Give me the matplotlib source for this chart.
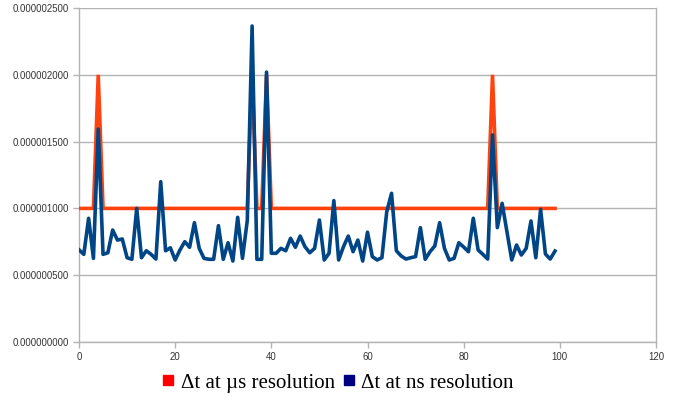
import matplotlib
matplotlib.use("Agg")
import matplotlib.pyplot as plt
from matplotlib.lines import Line2D

x_values = list(range(100))

us_values = [1e-6] * 100
for i in (4, 36, 39, 86):
    us_values[i] = 2e-6

ns_values_e6 = [
    0.690, 0.656, 0.926, 0.626, 1.594, 0.656, 0.668, 0.838, 0.763, 0.771,
    0.631, 0.619, 1.000, 0.631, 0.683, 0.656, 0.621, 1.200, 0.683, 0.705,
    0.614, 0.689, 0.751, 0.709, 0.893, 0.701, 0.626, 0.619, 0.619, 0.871,
    0.619, 0.743, 0.606, 0.933, 0.626, 0.910, 2.365, 0.619, 0.619, 2.020,
    0.664, 0.664, 0.701, 0.683, 0.776, 0.709, 0.793, 0.713, 0.668, 0.701,
    0.913, 0.614, 0.664, 1.058, 0.614, 0.713, 0.793, 0.676, 0.763, 0.606,
    0.822, 0.639, 0.614, 0.631, 0.975, 1.113, 0.683, 0.644, 0.621, 0.631,
    0.639, 0.856, 0.619, 0.676, 0.719, 0.893, 0.701, 0.614, 0.626, 0.743,
    0.711, 0.676, 0.926, 0.689, 0.656, 0.621, 1.550, 0.856, 1.038, 0.826,
    0.614, 0.726, 0.651, 0.701, 0.906, 0.631, 0.993, 0.659, 0.621, 0.681,
]
ns_values = [v * 1e-6 for v in ns_values_e6]

y_ticks = [0, 0.5e-6, 1e-6, 1.5e-6, 2e-6, 2.5e-6]
x_ticks = [0, 20, 40, 60, 80, 100, 120]
legend_labels = ["Δt at µs resolution", "Δt at ns resolution"]

fig = plt.figure(figsize=(6.74, 3.96), dpi=100)
ax = fig.add_axes([79/674, 1 - 342/396, (656 - 79)/674, (342 - 8)/396])

grid_c = "#b3b3b3"
ax.plot(x_values, us_values, color="#ff420e", lw=2.6, solid_joinstyle="miter", zorder=3)
ax.plot(x_values, ns_values, color="#004586", lw=2.6, zorder=4)

ax.set_xlim(0, 120)
ax.set_ylim(0, 2.5e-6)
ax.set_xticks(x_ticks)
ax.set_yticks(y_ticks)
ax.set_xticklabels([str(t) for t in x_ticks])
ax.set_yticklabels([f"{t:.9f}" for t in y_ticks])
ax.yaxis.grid(True, color=grid_c, lw=1)
ax.set_axisbelow(True)
for s in ["left", "bottom", "right"]:
    ax.spines[s].set_color(grid_c)
    ax.spines[s].set_linewidth(1)
ax.spines["top"].set_visible(False)
ax.tick_params(axis="both", colors=grid_c, length=4, width=1, direction="out",
               labelsize=6.9, labelcolor="#333333", pad=3)
ax.tick_params(axis="y", right=False)
for lab in ax.get_xticklabels() + ax.get_yticklabels():
    lab.set_family("Liberation Sans")

handles = [
    Line2D([], [], ls="none", marker="s", markersize=6.5, color="#ff0000"),
    Line2D([], [], ls="none", marker="s", markersize=6.5, color="#000080"),
]
fig.legend(handles, legend_labels, loc="center", bbox_to_anchor=(0.502, 1 - 383/396),
           ncol=2, frameon=False, prop={"family": "Liberation Serif", "size": 15},
           handlelength=0.5, handletextpad=0.35, columnspacing=0.4)

fig.savefig("out.png", dpi=100)
